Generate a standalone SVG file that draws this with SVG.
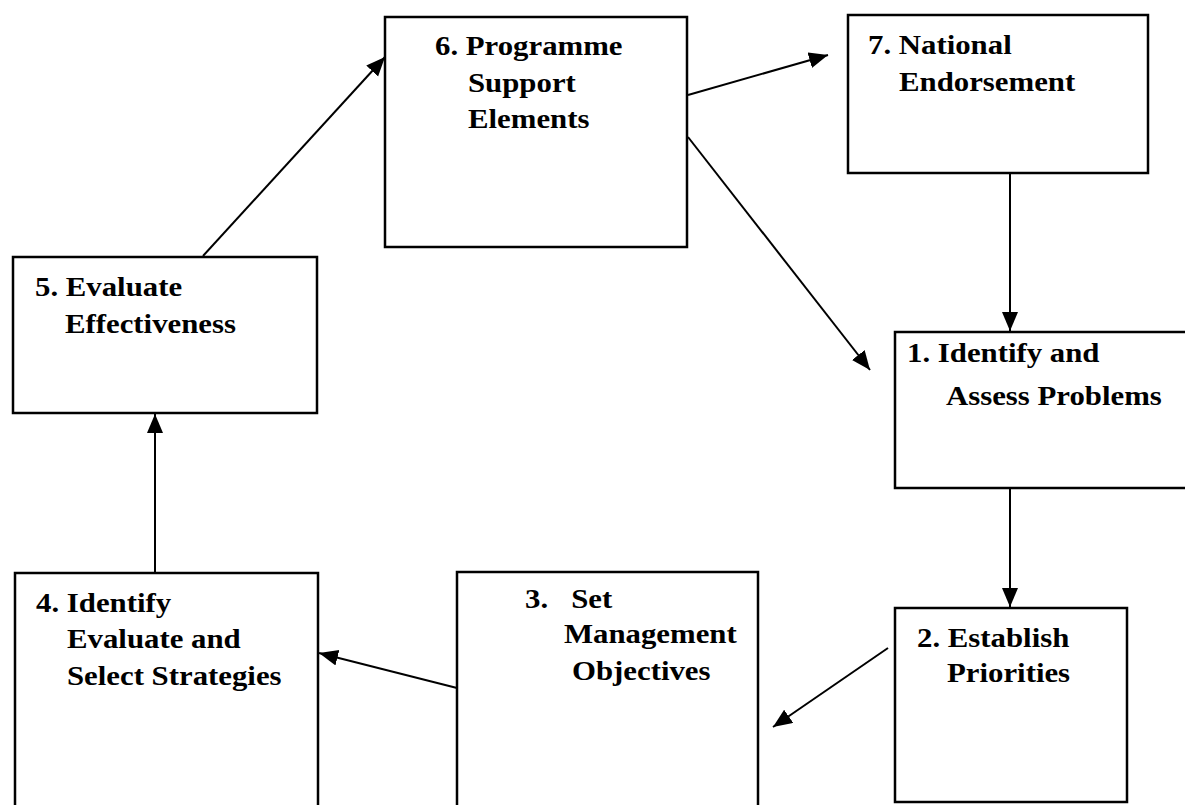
<svg xmlns="http://www.w3.org/2000/svg" width="1185" height="805" viewBox="0 0 1185 805">
<style>
.box{fill:#fff;stroke:#000;stroke-width:2.5}
.lbl{font-family:"Liberation Serif","Times New Roman",serif;font-weight:bold;font-size:28px;fill:#000}
.con{stroke:#000;stroke-width:2;fill:none}
</style>
<defs>
<marker id="ah" markerUnits="userSpaceOnUse" markerWidth="22" markerHeight="18" refX="19" refY="8" orient="auto">
<path d="M0,0 L19,8 L0,16 Z" fill="#000"/>
</marker>
</defs>
<rect width="1185" height="805" fill="#fff"/>
<g id="node6">
<rect class="box" x="385" y="17" width="302" height="230"/>
<text class="lbl" transform="translate(435,55) scale(1.1,1)">6. Programme</text>
<text class="lbl" transform="translate(468,92) scale(1.1,1)">Support</text>
<text class="lbl" transform="translate(468,128) scale(1.1,1)">Elements</text>
</g>
<g id="node7">
<rect class="box" x="848" y="15" width="300" height="158"/>
<text class="lbl" transform="translate(868,54) scale(1.1,1)">7. National</text>
<text class="lbl" transform="translate(899,91) scale(1.1,1)">Endorsement</text>
</g>
<g id="node1">
<rect class="box" x="895" y="332" width="300" height="156"/>
<text class="lbl" transform="translate(907,362) scale(1.1,1)">1. Identify and</text>
<text class="lbl" transform="translate(946,405) scale(1.1,1)">Assess Problems</text>
</g>
<g id="node2">
<rect class="box" x="895" y="608" width="232" height="194"/>
<text class="lbl" transform="translate(917,647) scale(1.1,1)">2. Establish</text>
<text class="lbl" transform="translate(947,682) scale(1.1,1)">Priorities</text>
</g>
<g id="node3">
<rect class="box" x="457" y="572" width="301" height="250"/>
<text class="lbl" transform="translate(525,608) scale(1.1,1)" xml:space="preserve">3.   Set</text>
<text class="lbl" transform="translate(564,643) scale(1.1,1)">Management</text>
<text class="lbl" transform="translate(572,680) scale(1.1,1)">Objectives</text>
</g>
<g id="node4">
<rect class="box" x="15" y="573" width="303" height="250"/>
<text class="lbl" transform="translate(36,612) scale(1.1,1)">4. Identify</text>
<text class="lbl" transform="translate(67,648) scale(1.1,1)">Evaluate and</text>
<text class="lbl" transform="translate(67,685) scale(1.1,1)">Select Strategies</text>
</g>
<g id="node5">
<rect class="box" x="13" y="257" width="304" height="156"/>
<text class="lbl" transform="translate(35,296) scale(1.1,1)">5. Evaluate</text>
<text class="lbl" transform="translate(65,333) scale(1.1,1)">Effectiveness</text>
</g>
<g id="connectors">
<line class="con" x1="203" y1="256" x2="385" y2="57" marker-end="url(#ah)"/>
<line class="con" x1="688" y1="95" x2="828" y2="55" marker-end="url(#ah)"/>
<line class="con" x1="688" y1="137" x2="870" y2="370" marker-end="url(#ah)"/>
<line class="con" x1="1010" y1="173" x2="1010" y2="331" marker-end="url(#ah)"/>
<line class="con" x1="1010" y1="488" x2="1010" y2="607" marker-end="url(#ah)"/>
<line class="con" x1="888" y1="648" x2="773" y2="727" marker-end="url(#ah)"/>
<line class="con" x1="457" y1="688" x2="319" y2="653" marker-end="url(#ah)"/>
<line class="con" x1="155" y1="573" x2="155" y2="414" marker-end="url(#ah)"/>
</g>
</svg>
